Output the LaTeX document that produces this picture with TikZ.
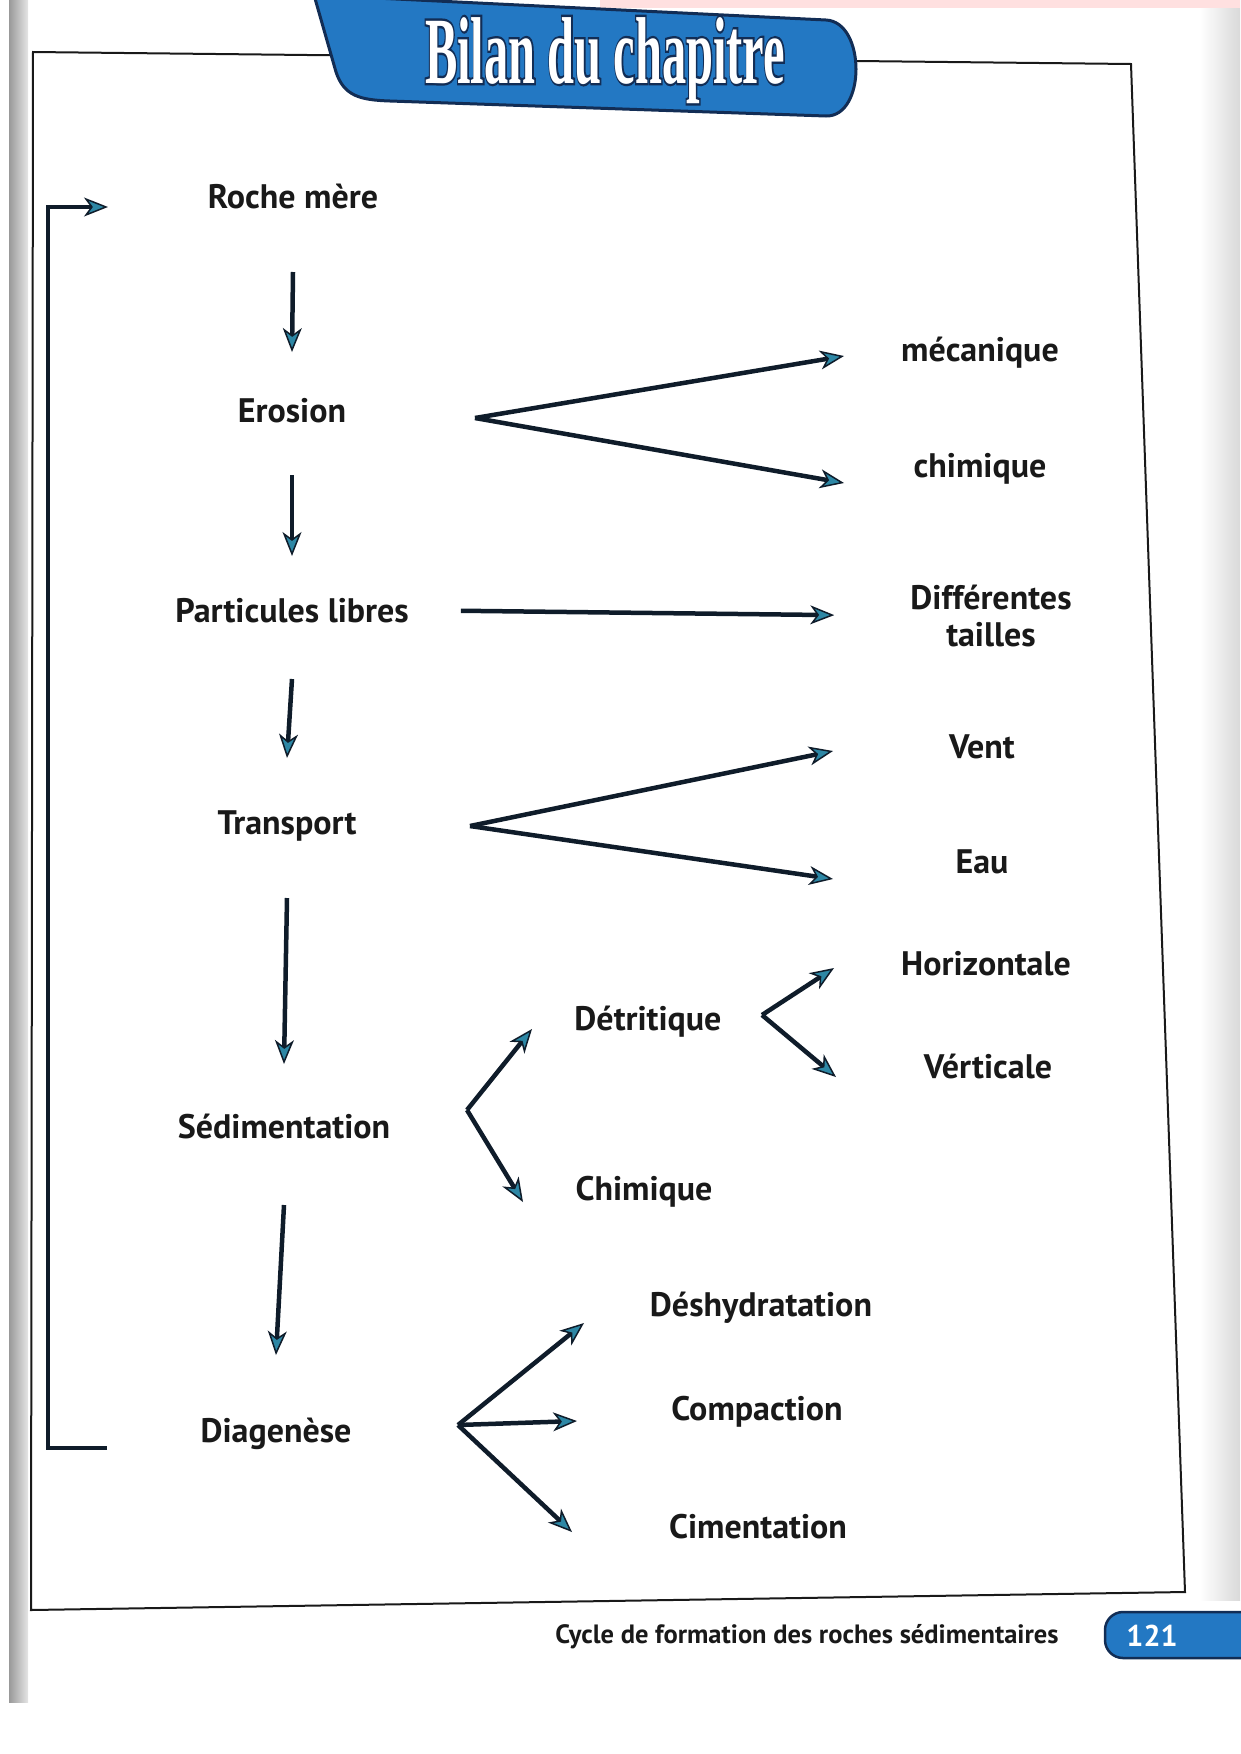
\documentclass[tikz,border=0pt]{standalone}
\usepackage{fontspec}
\usepackage{graphicx}
\usetikzlibrary{arrows.meta}
\setmainfont{PT Sans}
\newfontfamily\titrefont{Liberation Serif}
\newfontfamily\titrecontour[BoldFeatures={FakeBold=5}]{Liberation Serif}
\definecolor{encre}{RGB}{25,25,25}
\definecolor{trait}{RGB}{15,28,42}
\definecolor{pointe}{RGB}{45,135,165}
\definecolor{bandeau}{RGB}{35,120,195}
\definecolor{bord}{RGB}{18,45,85}

\begin{document}
\begin{tikzpicture}[x=1pt,y=-1pt]
	\tikzstyle{etape} = [anchor=base, inner sep=0pt, text=encre, font=\bfseries\fontsize{34}{37}\selectfont]
	\tikzstyle{fleche} = [draw=trait, line width=4.5pt, -{Stealth[length=24pt,width=19pt,inset=7pt,fill=pointe,line width=1.5pt]}]

	\useasboundingbox (0,0) rectangle (1240,1754);

	% bord de la page et cadre
	\shade[left color=gray!80, right color=gray!20] (9,0) rectangle (28,1702);
	\shade[left color=white, right color=gray!30] (1200,0) rectangle (1240,1600);
	\fill[red!12] (600,0) rectangle (1240,8);
	\draw[line width=2pt, draw=encre] (33,52) -- (1131,64) -- (1185,1592) -- (31,1610) -- cycle;

	% bandeau du titre
	\draw[fill=bandeau, draw=bord, line width=3pt] (314,-5) -- (336,72) .. controls (344,96) and (360,100) .. (390,101) -- (826,116) .. controls (866,117) and (866,22) .. (826,20) -- cycle;
	\node[anchor=base, inner sep=0pt] (titre-bord) at (605,83) {\scalebox{0.51}[1]{\titrecontour\bfseries\fontsize{95}{100}\selectfont\color{bord}Bilan du chapitre}};
	\node[anchor=base, inner sep=0pt] (titre) at (605,83) {\scalebox{0.51}[1]{\titrefont\bfseries\fontsize{95}{100}\selectfont\color{white}Bilan du chapitre}};

	% colonne principale
	\node [etape] (roche) at (293,208) {Roche mère};
	\node [etape] (erosion) at (292,422) {Erosion};
	\node [etape] (particules) at (292,622) {Particules libres};
	\node [etape] (transport) at (287,834) {Transport};
	\node [etape] (sedimentation) at (284,1138) {Sédimentation};
	\node [etape] (diagenese) at (276,1442) {Diagenèse};

	% termes de droite
	\node [etape] (mecanique) at (980,361) {mécanique};
	\node [etape] (chimique) at (980,477) {chimique};
	\node [etape, anchor=center, align=center] (tailles) at (991,616) {Différentes\\tailles};
	\node [etape] (vent) at (982,758) {Vent};
	\node [etape] (eau) at (982,873) {Eau};
	\node [etape] (horizontale) at (986,975) {Horizontale};
	\node [etape] (verticale) at (988,1078) {Vérticale};
	\node [etape] (detritique) at (648,1030) {Détritique};
	\node [etape] (chimiquebis) at (644,1200) {Chimique};
	\node [etape] (deshydratation) at (761,1316) {Déshydratation};
	\node [etape] (compaction) at (757,1420) {Compaction};
	\node [etape] (cimentation) at (758,1538) {Cimentation};

	% fourches
	\coordinate (f-erosion) at (475,418);
	\coordinate (p-mecanique) at (844,356);
	\coordinate (p-chimique) at (844,483);
	\coordinate (f-transport) at (470,826);
	\coordinate (p-vent) at (833,751);
	\coordinate (p-eau) at (833,879);
	\coordinate (f-sedimentation) at (467,1110);
	\coordinate (p-detritique) at (532,1029);
	\coordinate (p-chimiquebis) at (523,1202);
	\coordinate (f-detritique) at (762,1015);
	\coordinate (p-horizontale) at (834,968);
	\coordinate (p-verticale) at (836,1077);
	\coordinate (f-diagenese) at (458,1425);
	\coordinate (p-deshydratation) at (584,1323);
	\coordinate (p-compaction) at (577,1421);
	\coordinate (p-cimentation) at (572,1532);
	\coordinate (retour) at (107,1448);
	\coordinate (retour-fin) at (108,207);

	\draw [fleche] ([yshift=-64pt]roche.base) -- ([yshift=70pt]erosion.base);
	\draw [fleche] ([yshift=-53pt]erosion.base) -- ([yshift=66pt]particules.base);
	\draw [fleche] ([yshift=-57pt]particules.base) -- ([yshift=76pt]transport.base);
	\draw [fleche] ([yshift=-64pt]transport.base) -- ([yshift=74pt]sedimentation.base);
	\draw [fleche] ([yshift=-67pt]sedimentation.base) -- ([yshift=87pt]diagenese.base);

	\draw [fleche] (f-erosion) -- (p-mecanique);
	\draw [fleche] (f-erosion) -- (p-chimique);
	\draw [fleche, shorten <=52pt, shorten >=76pt] (particules.east) -- (tailles.west);
	\draw [fleche] (f-transport) -- (p-vent);
	\draw [fleche] (f-transport) -- (p-eau);
	\draw [fleche] (f-sedimentation) -- (p-detritique);
	\draw [fleche] (f-sedimentation) -- (p-chimiquebis);
	\draw [fleche] (f-detritique) -- (p-horizontale);
	\draw [fleche] (f-detritique) -- (p-verticale);
	\draw [fleche] (f-diagenese) -- (p-deshydratation);
	\draw [fleche] (f-diagenese) -- (p-compaction);
	\draw [fleche] (f-diagenese) -- (p-cimentation);
	\draw [fleche] (retour) -- ++(-59,0) |- (retour-fin);

	% pied de page
	\node [anchor=base, inner sep=0pt, text=encre, font=\bfseries\fontsize{26.5}{28}\selectfont] (pied) at (807,1643) {Cycle de formation des roches sédimentaires};
	\draw[fill=bandeau, draw=bord, line width=2.5pt, rounded corners=18pt] (1105,1612) rectangle (1262,1658);
	\node [anchor=base, inner sep=0pt, text=white, font=\bfseries\fontsize{30}{32}\selectfont] (page) at (1152,1646) {121};
\end{tikzpicture}
\end{document}
